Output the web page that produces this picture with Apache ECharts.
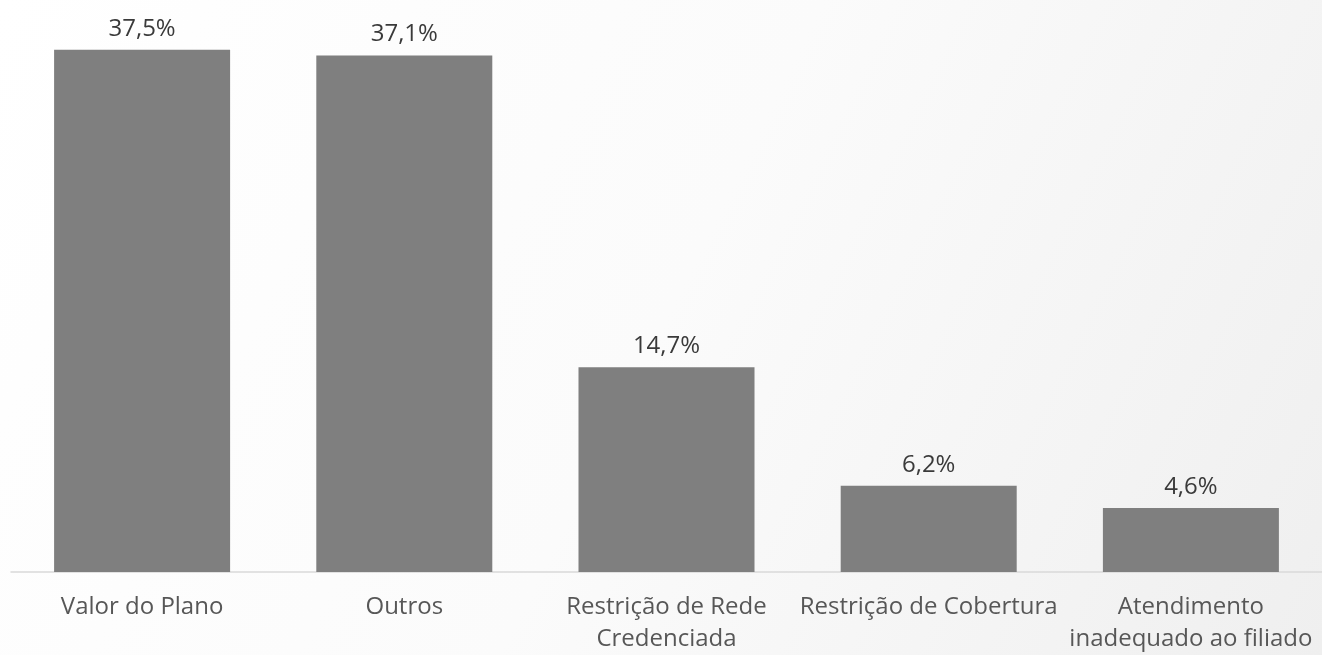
<!DOCTYPE html>
<html><head><meta charset="utf-8">
<script src="https://cdn.jsdelivr.net/npm/echarts@6/dist/echarts.min.js"></script>
<style>html,body{margin:0;padding:0;}#c{width:1322px;height:655px;}</style>
</head><body><div id="c"></div>
<script>
const categories = ['Valor do Plano', 'Outros', 'Restrição de Rede\nCredenciada', 'Restrição de Cobertura', 'Atendimento\ninadequado ao filiado'];
const values = [37.5, 37.1, 14.7, 6.2, 4.6];

const chart = echarts.init(document.getElementById('c'));
const font = '"Open Sans", "Noto Sans", sans-serif';
chart.setOption({
  backgroundColor: {
    type: 'linear', x: 0, y: 0, x2: 1, y2: 1,
    colorStops: [{offset: 0, color: '#ffffff'}, {offset: 0.5, color: '#fbfbfb'}, {offset: 1, color: '#efefef'}]
  },
  animation: false,
  grid: {left: 11, right: 0, top: 15, bottom: 82, containLabel: false},
  xAxis: {
    type: 'category', data: categories,
    axisLine: {lineStyle: {color: '#d9d9d9', width: 1.5}},
    axisTick: {show: false},
    axisLabel: {color: '#575757', fontSize: 24, fontFamily: font, margin: 19, lineHeight: 32, interval: 0}
  },
  yAxis: {type: 'value', min: 0, max: 40, show: false, splitLine: {show: false}},
  series: [{
    type: 'bar', data: values, barWidth: 176,
    itemStyle: {color: '#7f7f7f'},
    label: {
      show: true, position: 'top', distance: 9,
      color: '#3a3a3a', fontSize: 24, fontFamily: font,
      formatter: p => p.value.toFixed(1).replace('.', ',') + '%'
    }
  }]
});
</script></body></html>
